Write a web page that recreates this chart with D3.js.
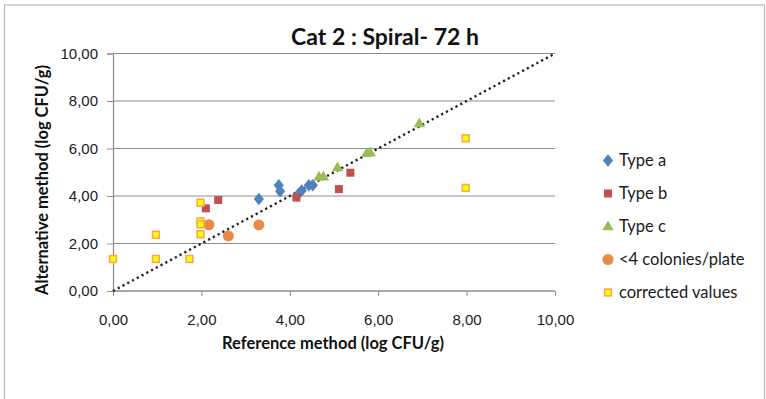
<!DOCTYPE html>
<html>
<head>
<meta charset="utf-8">
<script src="https://cdn.jsdelivr.net/npm/d3@7"></script>
<style>
  html, body { margin: 0; padding: 0; background: #fff; }
  svg { display: block; font-family: Lato, "Open Sans", sans-serif; }
</style>
</head>
<body>
<svg id="chart" width="766" height="399"></svg>
<script>
// Reference vs alternative method counts (log CFU/g)
const typeA = [[3.3, 3.87], [3.75, 4.45], [3.78, 4.2], [4.2, 4.1], [4.27, 4.23], [4.43, 4.45], [4.52, 4.45]];
const typeB = [[2.1, 3.48], [2.38, 3.83], [4.15, 3.93], [5.11, 4.29], [5.37, 4.98]];
const typeC = [[4.66, 4.81], [4.76, 4.81], [5.08, 5.2], [5.74, 5.8], [5.82, 5.83], [6.93, 7.05]];
const fewColonies = [[2.17, 2.79], [2.61, 2.32], [3.3, 2.78]];
const corrected = [[0, 1.35], [0.97, 2.37], [0.97, 1.35], [1.73, 1.35], [1.98, 3.72], [1.98, 2.93], [1.98, 2.81], [1.98, 2.39], [7.98, 6.43], [7.98, 4.34]];
const tickValues = [0, 2, 4, 6, 8, 10];
const seriesNames = ["Type a", "Type b", "Type c", "<4 colonies/plate", "corrected values"];

const svg = d3.select("#chart");

// outer frame
svg.append("rect").attr("x", 4.5).attr("y", 5).attr("width", 760).attr("height", 400)
  .attr("fill", "none").attr("stroke", "#b8b8b8").attr("stroke-width", 1.2);

const x = d3.scaleLinear().domain([0, 10]).range([113, 555]);
const y = d3.scaleLinear().domain([0, 10]).range([291, 53.5]);
const fmt = v => d3.format(".2f")(v).replace(".", ",");

// horizontal gridlines
svg.append("g").selectAll("line").data(tickValues).join("line")
  .attr("x1", x(0)).attr("x2", x(10))
  .attr("y1", d => y(d)).attr("y2", d => y(d))
  .attr("stroke", "#8c8c8c").attr("stroke-width", 1);

// y axis
const yAxis = svg.append("g").attr("transform", `translate(${x(0)},0)`)
  .call(d3.axisLeft(y).tickValues(tickValues).tickFormat(fmt).tickSize(6).tickPadding(9));
// x axis
const xAxis = svg.append("g").attr("transform", `translate(0,${y(0)})`)
  .call(d3.axisBottom(x).tickValues(tickValues).tickFormat(fmt).tickSize(5).tickPadding(18));
[yAxis, xAxis].forEach(g => {
  g.select(".domain").attr("stroke", "#8c8c8c").attr("stroke-width", 1.2);
  g.selectAll(".tick line").attr("stroke", "#8c8c8c");
  g.selectAll(".tick text").attr("fill", "#1a1a1a").style("font-size", "15px");
});
xAxis.select(".domain").attr("d", `M${x(0)},0H${x(10)}`);

// identity line
svg.append("line")
  .attr("x1", x(0)).attr("y1", y(0)).attr("x2", x(10)).attr("y2", y(10))
  .attr("stroke", "#222").attr("stroke-width", 2.4)
  .attr("stroke-dasharray", "2.2 3.2");

const colors = { a: "#4f81bd", b: "#c0504d", c: "#9bbb59", o: "#e98a44" };

const triangle = d3.symbol().type(d3.symbolTriangle).size(56);

function drawMarker(g, kind, px, py) {
  if (kind === 0) {
    g.append("path").attr("d", d3.symbol().type(d3.symbolSquare).size(64)())
      .attr("transform", `translate(${px},${py}) scale(0.9,1.1) rotate(45)`)
      .attr("fill", colors.a);
  } else if (kind === 1) {
    g.append("rect").attr("x", px - 4).attr("y", py - 4).attr("width", 8).attr("height", 8)
      .attr("fill", colors.b);
  } else if (kind === 2) {
    g.append("path").attr("d", triangle()).attr("transform", `translate(${px},${py + 0.5})`)
      .attr("fill", colors.c);
  } else if (kind === 3) {
    g.append("circle").attr("cx", px).attr("cy", py).attr("r", 5.5).attr("fill", colors.o);
  } else {
    g.append("rect").attr("x", px - 3.4).attr("y", py - 3.4).attr("width", 6.8).attr("height", 6.8)
      .attr("fill", "#ffff00").attr("stroke", "#f9a84e").attr("stroke-width", 1.6);
  }
}

const allSeries = [typeA, typeB, typeC, fewColonies, corrected];
const marks = svg.append("g");
allSeries.forEach((data, k) => {
  data.forEach(d => drawMarker(marks, k, x(d[0]), y(d[1])));
});

// legend
const legend = svg.append("g");
seriesNames.forEach((name, i) => {
  const ly = 160.5 + i * 33;
  drawMarker(legend, i, 608, ly);
  legend.append("text").attr("x", 619).attr("y", ly + 5.5)
    .attr("fill", "#1a1a1a").style("font-size", "16.5px").text(name);
});

// titles
svg.append("text").attr("x", 385).attr("y", 45).attr("text-anchor", "middle")
  .style("font-size", "23px").style("font-weight", "bold").attr("fill", "#111")
  .text("Cat 2 : Spiral- 72 h");
svg.append("text").attr("x", 333).attr("y", 349).attr("text-anchor", "middle")
  .style("font-size", "16.5px").style("font-weight", "bold").attr("fill", "#111")
  .text("Reference method (log CFU/g)");
svg.append("text").attr("transform", "translate(48,180) rotate(-90)").attr("text-anchor", "middle")
  .style("font-size", "16.5px").style("font-weight", "bold").attr("fill", "#111")
  .text("Alternative method (log CFU/g)");
</script>
</body>
</html>
